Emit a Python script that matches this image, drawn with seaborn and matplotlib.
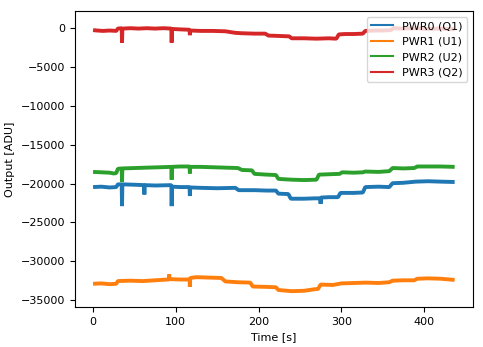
import matplotlib
matplotlib.use("Agg")
import matplotlib.pyplot as plt
from matplotlib.lines import Line2D
import seaborn as sns
import pandas as pd

# ---- data ----
labels = ["PWR0 (Q1)", "PWR1 (U1)", "PWR2 (U2)", "PWR3 (Q2)"]

blue_t = [0, 10, 20, 28, 30, 34.6, 35, 35.4, 50, 61.6, 62, 62.4, 75, 94.6, 95, 95.4, 105, 116.6, 117,
          117.4, 130, 150, 172, 176, 195, 210, 221, 224, 236, 239, 255, 268, 274.6, 275, 275.4, 285,
          296, 299, 315, 326, 329, 345, 358, 362, 375, 390, 405, 420, 437]
blue_v = [-20450, -20400, -20500, -20450, -20100, -20100, -22900, -20100, -20150, -20200, -21400,
          -20200, -20250, -20200, -22900, -20400, -20450, -20450, -21600, -20500, -20550, -20600,
          -20550, -20850, -20850, -20900, -20900, -21300, -21350, -21950, -21950, -21900, -21900,
          -22600, -21800, -21750, -21750, -21200, -21200, -21150, -20450, -20400, -20450, -19950,
          -19900, -19750, -19700, -19750, -19800]

orange_t = [0, 10, 20, 28, 30, 45, 60, 75, 90, 91.6, 92, 92.4, 105, 116.6, 117, 117.4, 125, 140, 155,
            160, 175, 190, 193, 210, 221, 224, 240, 255, 268, 272, 275, 290, 300, 315, 330, 345, 358,
            362, 375, 388, 392, 405, 420, 437]
orange_v = [-32900, -32850, -32950, -32900, -32550, -32500, -32550, -32450, -32350, -32350, -31700,
            -32300, -32350, -32350, -33300, -32150, -32050, -32100, -32150, -32600, -32700, -32750,
            -33250, -33300, -33350, -33700, -33850, -33800, -33600, -33550, -33000, -33050, -32850,
            -32800, -32750, -32800, -32700, -32500, -32450, -32450, -32250, -32200, -32250, -32400]

green_t = [0, 10, 20, 25, 28, 30, 34.6, 35, 35.4, 50, 65, 80, 94.6, 95, 95.4, 105, 116.6, 117, 117.4,
           130, 145, 160, 175, 180, 192, 195, 210, 221, 224, 240, 255, 270, 273, 285, 298, 301, 315,
           326, 329, 345, 358, 362, 375, 388, 392, 405, 420, 437]
green_v = [-18500, -18550, -18600, -18700, -18650, -18100, -18050, -19800, -18050, -18000, -17950,
           -17900, -17850, -19500, -17850, -17800, -17800, -18700, -17850, -17850, -17900, -17950,
           -18000, -18250, -18300, -18750, -18850, -18900, -19400, -19500, -19550, -19500, -18850,
           -18800, -18750, -18550, -18600, -18550, -18450, -18500, -18400, -18000, -18050, -18000,
           -17800, -17800, -17800, -17850]

red_t = [0, 5, 12, 20, 28, 30, 34.6, 35, 35.4, 45, 55, 65, 75, 85, 94.6, 95, 95.4, 105, 116.6, 117,
         117.4, 130, 145, 160, 172, 180, 195, 208, 212, 225, 237, 240, 255, 270, 285, 294, 297, 305,
         315, 326, 329, 340, 350, 360, 363, 375, 390, 405, 420, 437]
red_v = [-250, -300, -350, -300, -350, -50, 0, -1900, -50, 0, -50, 0, -50, 0, -50, -1850, -100, -150,
         -200, -900, -300, -350, -350, -400, -600, -650, -700, -700, -950, -1000, -1050, -1300, -1300,
         -1350, -1300, -1350, -800, -750, -750, -700, -350, -300, -300, -250, 0, -50, 0, -100, -50,
         -150]

series_t = [blue_t, orange_t, green_t, red_t]
series_v = [blue_v, orange_v, green_v, red_v]

frames = []
for lab, t, v in zip(labels, series_t, series_v):
    frames.append(pd.DataFrame({"Time": t, "Output": v, "Channel": lab}))
df = pd.concat(frames, ignore_index=True)

colors = ["#1f77b4", "#ff7f0e", "#2ca02c", "#d62728"]

fig = plt.figure(figsize=(4.83, 3.47), dpi=100)
ax = fig.add_axes([0.155, 0.115, 0.824, 0.853])
sns.lineplot(data=df, x="Time", y="Output", hue="Channel", palette=colors,
             estimator=None, sort=False, linewidth=2.8, ax=ax, legend=False)
for ln in ax.get_lines():
    ln.set_solid_capstyle("butt")
    ln.set_solid_joinstyle("bevel")

ax.set_ylim(-35900, 2200)
ax.set_xlim(-22, 459)
ax.set_xlabel("Time [s]", fontsize=8)
ax.set_ylabel("Output [ADU]", fontsize=8)
ax.tick_params(labelsize=8)

handles = [Line2D([0], [0], color=c, lw=1.5) for c in colors]
ax.legend(handles, labels, loc="upper right", fontsize=8)

fig.savefig("out.png", dpi=100)
